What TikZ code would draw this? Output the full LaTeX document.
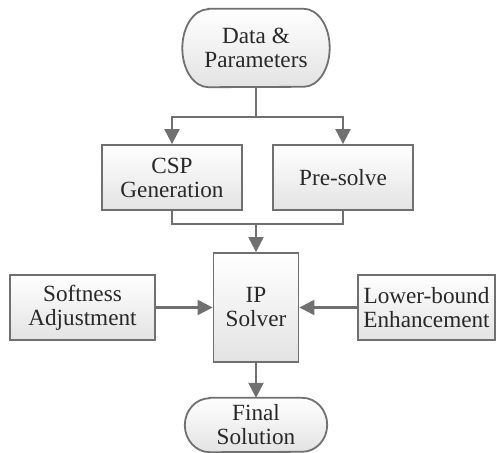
\documentclass[tikz,border=0pt]{standalone}
\usepackage{fontspec}
\setmainfont{Liberation Serif}
\usetikzlibrary{arrows.meta,backgrounds}

\definecolor{edgegray}{RGB}{112,112,112}
\definecolor{textgray}{RGB}{40,40,40}

\tikzset{
  x=1pt, y=1pt,
  base/.style={inner sep=0pt, align=center, text=textgray,
    font=\fontsize{23.2}{24}\selectfont},
  procbox/.style={base, draw=edgegray, line width=1.8pt,
    top color=white, bottom color=black!11},
  termnode/.style={base},
  termshape/.style={draw=edgegray, line width=1.8pt,
    top color=white, bottom color=black!11},
  link/.style={draw=edgegray, line width=2.1pt},
  arrow/.style={link, -{Triangle[length=15pt,width=15pt]}},
}

\begin{document}
\begin{tikzpicture}
  \useasboundingbox (0,0) rectangle (496,453);

  % terminals (outlines drawn on the background layer below)
  \node[termnode, minimum width=147pt, minimum height=78pt] (data) at (256,405) {Data \&\\Parameters};
  \node[termnode, minimum width=142pt, minimum height=54pt] (final) at (256,28) {Final\\Solution};

  % processing steps
  \node[procbox, minimum width=140pt, minimum height=65pt] (csp) at (172,275.5) {CSP\\Generation};
  \node[procbox, minimum width=140pt, minimum height=65pt] (pre) at (343,275.5) {Pre-solve};
  \node[procbox, minimum width=85pt, minimum height=109pt] (ip) at (256,145.5) {IP\\Solver};
  \node[procbox, minimum width=145pt, minimum height=65pt] (soft) at (82.5,145.5) {Softness\\Adjustment};
  \node[procbox, minimum width=137pt, minimum height=65pt] (lower) at (426.5,145.5) {Lower-bound\\Enhancement};

  \begin{scope}[on background layer]
    \path[termshape] ([xshift=26pt]data.north west) -- ([xshift=-26pt]data.north east)
      arc[start angle=90, end angle=-90, x radius=26pt, y radius=39pt]
      -- ([xshift=26pt]data.south west)
      arc[start angle=270, end angle=90, x radius=26pt, y radius=39pt] -- cycle;
    \path[termshape] ([xshift=25pt]final.north west) -- ([xshift=-25pt]final.north east)
      arc[start angle=90, end angle=-90, x radius=25pt, y radius=27pt]
      -- ([xshift=25pt]final.south west)
      arc[start angle=270, end angle=90, x radius=25pt, y radius=27pt] -- cycle;
  \end{scope}

  % branching from the input data
  \coordinate (split) at (256,336);
  \draw[link] (data.south) -- (split);
  \draw[arrow] (split) -| (csp.north);
  \draw[arrow] (split) -| (pre.north);

  % merging into the solver
  \coordinate (merge) at (256,229);
  \draw[link] (csp.south) |- (merge);
  \draw[link] (pre.south) |- (merge);
  \draw[arrow] (merge) -- (ip.north);

  % side inputs and output
  \draw[arrow] (soft.east) -- (ip.west);
  \draw[arrow] (lower.west) -- (ip.east);
  \draw[arrow] (ip.south) -- (final.north);
\end{tikzpicture}
\end{document}
